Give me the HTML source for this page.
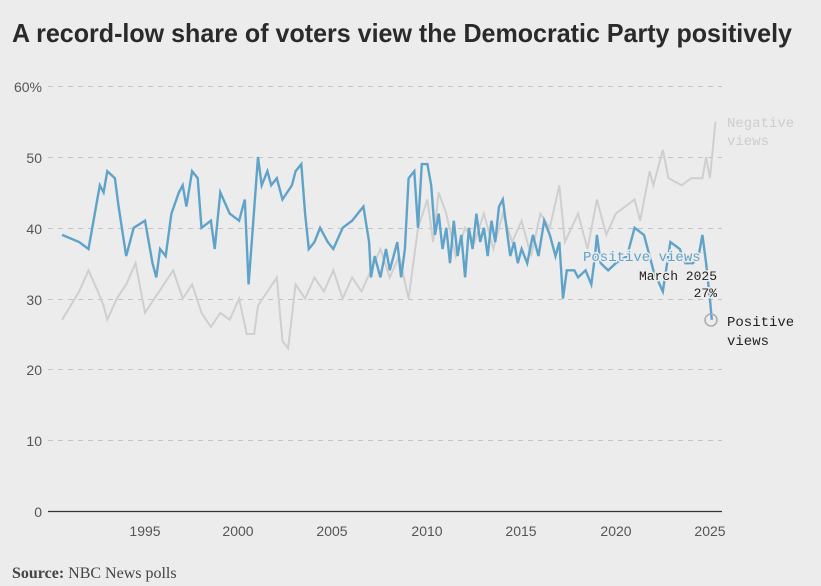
<!DOCTYPE html>
<html><head><meta charset="utf-8"><style>
html,body{margin:0;padding:0;background:#ececec;}
svg{display:block}
</style></head><body>
<svg id="s" width="821" height="586" xmlns="http://www.w3.org/2000/svg">
<rect width="821" height="586" fill="#ececec"/>
<text x="12" y="42" font-family="Liberation Sans Narrow, Liberation Sans, sans-serif" font-weight="bold" font-size="26" fill="#2a2a2a" textLength="780" lengthAdjust="spacingAndGlyphs">A record-low share of voters view the Democratic Party positively</text>
<g stroke="#c4c4c4" stroke-dasharray="5,5" stroke-width="1">
<line x1="48" x2="722" y1="86.5" y2="86.5"/><line x1="48" x2="722" y1="157.5" y2="157.5"/>
<line x1="48" x2="722" y1="228.5" y2="228.5"/><line x1="48" x2="722" y1="299.5" y2="299.5"/>
<line x1="48" x2="722" y1="369.5" y2="369.5"/><line x1="48" x2="722" y1="440.5" y2="440.5"/>
</g>
<line x1="48" x2="722" y1="511.5" y2="511.5" stroke="#333" stroke-width="1.2"/>
<g font-family="Liberation Sans, sans-serif" font-size="14" fill="#555" text-anchor="end">
<text x="42" y="92">60%</text><text x="42" y="163">50</text><text x="42" y="234">40</text>
<text x="42" y="305">30</text><text x="42" y="375">20</text><text x="42" y="446">10</text><text x="42" y="517">0</text>
</g>
<g font-family="Liberation Sans, sans-serif" font-size="14" fill="#555" text-anchor="middle">
<text x="145" y="536">1995</text><text x="238" y="536">2000</text><text x="332" y="536">2005</text>
<text x="427" y="536">2010</text><text x="521" y="536">2015</text><text x="616" y="536">2020</text><text x="710" y="536">2025</text>
</g>
<path id="neg" fill="none" stroke="#cfcfcf" stroke-width="2"/>
<path id="pos" fill="none" stroke="#5fa3c9" stroke-width="2.4"/>
<circle cx="711" cy="320" r="6" fill="none" stroke="#aaa" stroke-width="1.5"/>
<g font-family="Liberation Mono, monospace" font-size="14">
<text x="727" y="127" fill="#cdcdcd">Negative</text><text x="727" y="145" fill="#cdcdcd">views</text>
<text x="583" y="261" fill="#5fa3c9" stroke="#ececec" stroke-width="3" paint-order="stroke">Positive views</text>
<text x="717" y="280" text-anchor="end" fill="#222" font-size="13" stroke="#ececec" stroke-width="3" paint-order="stroke">March 2025</text>
<text x="717" y="297" text-anchor="end" fill="#222" font-size="13" stroke="#ececec" stroke-width="3" paint-order="stroke">27%</text>
<text x="727" y="326" fill="#222">Positive</text><text x="727" y="345" fill="#222">views</text>
</g>
<text x="12" y="578" font-family="Liberation Serif, serif" font-size="16" fill="#444"><tspan font-weight="bold">Source:</tspan> NBC News polls</text>
</svg>
<script>
function X(y){return 145+(y-1995)*18.83}
function Y(v){return 511-7.08*v}
function P(a){return a.map((p,i)=>(i?'L':'M')+X(p[0]).toFixed(1)+','+Y(p[1]).toFixed(1)).join('')}
var pos=[[1990.6,39],[1991.5,38],[1992,37],[1992.6,46],[1992.8,45],[1993,48],[1993.4,47],[1993.6,43],[1994,36],[1994.4,40],[1995,41],[1995.4,35],[1995.6,33],[1995.8,37],[1996.1,36],[1996.4,42],[1996.8,45],[1997,46],[1997.2,43],[1997.5,48],[1997.8,47],[1998,40],[1998.5,41],[1998.7,37],[1999,45],[1999.5,42],[2000,41],[2000.3,44],[2000.5,32],[2000.7,39],[2001,50],[2001.2,46],[2001.5,48],[2001.7,46],[2002,47],[2002.3,44],[2002.8,46],[2003,48],[2003.3,49],[2003.5,42],[2003.7,37],[2004,38],[2004.3,40],[2004.7,38],[2005,37],[2005.5,40],[2006,41],[2006.6,43],[2006.9,38],[2007,33],[2007.2,36],[2007.5,33],[2007.8,37],[2008,34],[2008.4,38],[2008.6,33],[2008.8,37],[2009,47],[2009.3,48],[2009.5,40],[2009.7,49],[2010,49],[2010.2,46],[2010.4,39],[2010.6,42],[2010.8,37],[2011,40],[2011.2,35],[2011.4,41],[2011.6,36],[2011.8,39],[2012,33],[2012.2,40],[2012.4,37],[2012.6,42],[2012.8,38],[2013,40],[2013.2,36],[2013.4,41],[2013.6,38],[2013.8,43],[2014,44],[2014.2,40],[2014.4,36],[2014.6,38],[2014.8,35],[2015,37],[2015.3,35],[2015.6,39],[2015.9,36],[2016.2,41],[2016.5,39],[2016.8,36],[2017,38],[2017.2,30],[2017.4,34],[2017.8,34],[2018,33],[2018.4,34],[2018.7,32],[2018.9,36],[2019,39],[2019.2,35],[2019.6,34],[2020,35],[2020.6,36],[2021,40],[2021.5,39],[2021.8,36],[2022,34],[2022.5,31],[2022.9,38],[2023.4,37],[2023.7,35],[2024.1,35],[2024.4,36],[2024.6,39],[2024.8,35],[2025.0,30],[2025.1,27]];
var neg=[[1990.6,27],[1991.5,31],[1992,34],[1992.5,31],[1992.8,29],[1993,27],[1993.5,30],[1994,32],[1994.5,35],[1995,28],[1995.5,30],[1996,32],[1996.5,34],[1997,30],[1997.5,32],[1998,28],[1998.5,26],[1999,28],[1999.5,27],[2000,30],[2000.4,25],[2000.8,25],[2001,29],[2001.5,31],[2002,33],[2002.3,24],[2002.6,23],[2003,32],[2003.5,30],[2004,33],[2004.5,31],[2005,34],[2005.5,30],[2006,33],[2006.5,31],[2007,34],[2007.5,37],[2008,33],[2008.5,36],[2009,30],[2009.5,40],[2010,44],[2010.3,38],[2010.6,45],[2011,42],[2011.5,36],[2012,40],[2012.5,38],[2013,42],[2013.5,37],[2014,42],[2014.5,38],[2015,41],[2015.5,36],[2016,42],[2016.5,40],[2017,46],[2017.3,38],[2018,42],[2018.5,37],[2019,44],[2019.5,39],[2020,42],[2020.5,43],[2021,44],[2021.3,41],[2021.8,48],[2022,46],[2022.5,51],[2022.8,47],[2023.5,46],[2024,47],[2024.6,47],[2024.8,50],[2025.0,47],[2025.3,55]];
document.getElementById('pos').setAttribute('d',P(pos));
document.getElementById('neg').setAttribute('d',P(neg));
</script>
</body></html>
